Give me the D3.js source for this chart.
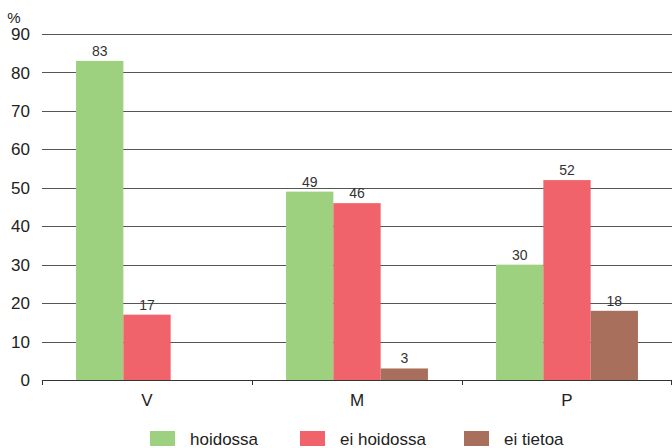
<!DOCTYPE html>
<html><head><meta charset="utf-8">
<script src="https://cdn.jsdelivr.net/npm/d3@7"></script>
<style>body{margin:0;background:#fff}svg{display:block}text{font-family:"Liberation Sans",Arial,sans-serif}</style>
</head><body>
<svg id="c" width="672" height="448"></svg>
<script>
const categories = ["V", "M", "P"];
const seriesNames = ["hoidossa", "ei hoidossa", "ei tietoa"];
const hoidossa = [83, 49, 30];
const eiHoidossa = [17, 46, 52];
const eiTietoa = [null, 3, 18];
const yTicks = [0, 10, 20, 30, 40, 50, 60, 70, 80, 90];
const colors = ["#9dd07f", "#f1636b", "#a8705c"];

(function () {
const series = [hoidossa, eiHoidossa, eiTietoa];
const svg = d3.select("#c");
const mLeft = 42, mRight = 672, mTop = 34, mBottom = 380;
const x = d3.scaleBand().domain(categories).range([mLeft, mRight]).paddingInner(0).paddingOuter(0);
const y = d3.scaleLinear().domain([0, 90]).range([mBottom, mTop]);
const bw = 47.3;
const x1 = d3.scaleBand().domain(seriesNames).range([0, bw * 3]);

svg.append("g").selectAll("line").data(yTicks.filter(d => d > 0)).join("line")
  .attr("x1", mLeft).attr("x2", mRight).attr("y1", d => Math.round(y(d)) + 0.5).attr("y2", d => Math.round(y(d)) + 0.5)
  .attr("stroke", "#555").attr("stroke-width", 1);

svg.append("g").selectAll("text").data(yTicks).join("text")
  .attr("x", 30).attr("y", d => y(d)).attr("dy", "0.36em").attr("text-anchor", "end")
  .attr("font-size", 17).attr("fill", "#222").text(d => d);
svg.append("text").attr("x", 14).attr("y", 23).attr("text-anchor", "middle").attr("font-size", 15).attr("fill", "#222").text("%");

categories.forEach((c, ci) => {
  const off = x(c) + (x.bandwidth() - bw * 3) / 2;
  series.forEach((s, si) => {
    const v = s[ci];
    if (v == null) return;
    svg.append("rect").attr("x", off + x1(seriesNames[si])).attr("width", x1.bandwidth())
      .attr("y", y(v)).attr("height", y(0) - y(v)).attr("fill", colors[si]);
    svg.append("text").attr("x", off + x1(seriesNames[si]) + x1.bandwidth() / 2).attr("y", y(v) - 5)
      .attr("text-anchor", "middle").attr("font-size", 14).attr("fill", "#333").text(v);
  });
});

const xa = svg.append("g").attr("transform", `translate(0,${mBottom})`)
  .call(d3.axisBottom(x).tickSize(0).tickPadding(14));
xa.select(".domain").remove();
xa.selectAll("text").attr("font-size", 17).attr("fill", "#222").attr("font-family", '"Liberation Sans",Arial,sans-serif');
svg.append("line").attr("x1", mLeft).attr("x2", mRight).attr("y1", mBottom + 0.5).attr("y2", mBottom + 0.5).attr("stroke", "#333");
const bounds = categories.map(c => x(c)).concat([x(categories[categories.length - 1]) + x.bandwidth()]);
svg.append("g").selectAll("line").data(bounds).join("line")
  .attr("x1", d => Math.min(Math.round(d) + 0.5, 671.5)).attr("x2", d => Math.min(Math.round(d) + 0.5, 671.5))
  .attr("y1", mBottom).attr("y2", mBottom + 5).attr("stroke", "#333");

const legX = [150, 300, 464];
seriesNames.forEach((n, i) => {
  svg.append("rect").attr("x", legX[i]).attr("y", 431).attr("width", 25).attr("height", 15).attr("fill", colors[i]);
  svg.append("text").attr("x", legX[i] + 40).attr("y", 445).attr("font-size", 17).attr("fill", "#222").text(n);
});
})();
</script>
</body></html>
